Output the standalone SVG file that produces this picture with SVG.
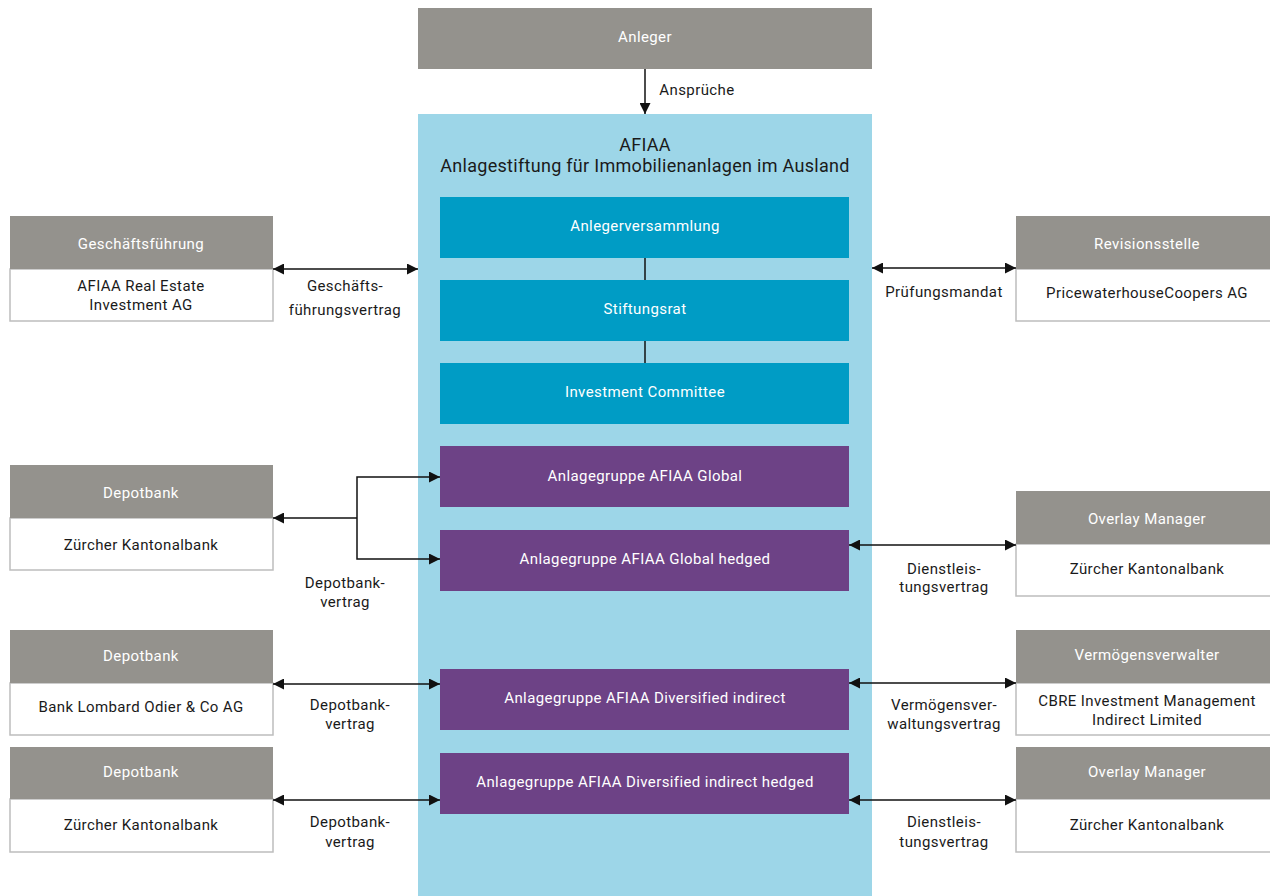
<svg xmlns="http://www.w3.org/2000/svg" width="1270" height="896" viewBox="0 0 1270 896">
<defs>
<marker id="ah" viewBox="0 0 10 10" refX="10" refY="5" markerWidth="11" markerHeight="11" markerUnits="userSpaceOnUse" orient="auto-start-reverse"><path d="M0,0 L10,5 L0,10 Z" fill="#111"/></marker>
<style>
text{font-family:Roboto,"Liberation Sans",sans-serif;font-size:15px;letter-spacing:0.4px;text-anchor:middle;fill:#1a1a1a}
.w{fill:#fff}
.hd{fill:#94928d}
.bd{fill:#fff;stroke:#bdbdbd;stroke-width:1.5}
.tl{fill:#009cc5}
.pu{fill:#6d4286}
.ln{stroke:#111;stroke-width:1.5;fill:none}
.title{font-size:18px;letter-spacing:0.3px}
</style>
</defs>
<rect x="0" y="0" width="1270" height="896" fill="#fff"/>
<g id="anleger"><rect class="hd" x="418" y="8" width="454" height="61"/><text class="w" x="645" y="42">Anleger</text></g>
<g id="afiaa"><rect fill="#9dd6e8" x="418" y="114" width="454" height="782"/><text class="title" x="645" y="151">AFIAA</text><text class="title" x="645" y="172">Anlagestiftung für Immobilienanlagen im Ausland</text></g>
<g id="anlegerversammlung"><rect class="tl" x="440" y="197" width="409" height="61"/><text class="w" x="645" y="231">Anlegerversammlung</text></g>
<g id="stiftungsrat"><rect class="tl" x="440" y="280" width="409" height="61"/><text class="w" x="645" y="314">Stiftungsrat</text></g>
<g id="investment-committee"><rect class="tl" x="440" y="363" width="409" height="61"/><text class="w" x="645" y="397">Investment Committee</text></g>
<g id="ag-global"><rect class="pu" x="440" y="446" width="409" height="61"/><text class="w" x="645" y="481">Anlagegruppe AFIAA Global</text></g>
<g id="ag-global-hedged"><rect class="pu" x="440" y="530" width="409" height="61"/><text class="w" x="645" y="564">Anlagegruppe AFIAA Global hedged</text></g>
<g id="ag-div"><rect class="pu" x="440" y="669" width="409" height="61"/><text class="w" x="645" y="703">Anlagegruppe AFIAA Diversified indirect</text></g>
<g id="ag-div-hedged"><rect class="pu" x="440" y="753" width="409" height="61"/><text class="w" x="645" y="787">Anlagegruppe AFIAA Diversified indirect hedged</text></g>

<g id="geschaeftsfuehrung"><rect class="bd" x="10" y="269" width="263" height="52"/><rect class="hd" x="10" y="216" width="263" height="53"/><text class="w" x="141" y="249">Geschäftsführung</text><text x="141" y="291">AFIAA Real Estate</text><text x="141" y="310">Investment AG</text></g>
<g id="depotbank1"><rect class="bd" x="10" y="518" width="263" height="52"/><rect class="hd" x="10" y="465" width="263" height="53"/><text class="w" x="141" y="498">Depotbank</text><text x="141" y="550">Zürcher Kantonalbank</text></g>
<g id="depotbank2"><rect class="bd" x="10" y="683" width="263" height="52"/><rect class="hd" x="10" y="630" width="263" height="53"/><text class="w" x="141" y="661">Depotbank</text><text x="141" y="712">Bank Lombard Odier &amp; Co AG</text></g>
<g id="depotbank3"><rect class="bd" x="10" y="799" width="263" height="53"/><rect class="hd" x="10" y="747" width="263" height="52"/><text class="w" x="141" y="777">Depotbank</text><text x="141" y="830">Zürcher Kantonalbank</text></g>

<g id="revisionsstelle"><rect class="bd" x="1016" y="269" width="260" height="52"/><rect class="hd" x="1016" y="216" width="260" height="53"/><text class="w" x="1147" y="249">Revisionsstelle</text><text x="1147" y="298">PricewaterhouseCoopers AG</text></g>
<g id="overlay1"><rect class="bd" x="1016" y="544" width="260" height="52"/><rect class="hd" x="1016" y="491" width="260" height="53"/><text class="w" x="1147" y="524">Overlay Manager</text><text x="1147" y="574">Zürcher Kantonalbank</text></g>
<g id="vermoegensverwalter"><rect class="bd" x="1016" y="683" width="260" height="52"/><rect class="hd" x="1016" y="630" width="260" height="53"/><text class="w" x="1147" y="660">Vermögensverwalter</text><text x="1147" y="706">CBRE Investment Management</text><text x="1147" y="725">Indirect Limited</text></g>
<g id="overlay2"><rect class="bd" x="1016" y="799" width="260" height="53"/><rect class="hd" x="1016" y="747" width="260" height="52"/><text class="w" x="1147" y="777">Overlay Manager</text><text x="1147" y="830">Zürcher Kantonalbank</text></g>

<g id="connectors">
<line class="ln" x1="645" y1="69" x2="645" y2="114" marker-end="url(#ah)"/>
<line class="ln" x1="645" y1="258" x2="645" y2="280"/>
<line class="ln" x1="645" y1="341" x2="645" y2="363"/>
<line class="ln" x1="273" y1="269" x2="418" y2="269" marker-start="url(#ah)" marker-end="url(#ah)"/>
<line class="ln" x1="872" y1="268" x2="1016" y2="268" marker-start="url(#ah)" marker-end="url(#ah)"/>
<line class="ln" x1="273" y1="518" x2="357" y2="518" marker-start="url(#ah)"/>
<path class="ln" d="M440,477 H357 V559 H440" marker-start="url(#ah)" marker-end="url(#ah)"/>
<line class="ln" x1="849" y1="545" x2="1016" y2="545" marker-start="url(#ah)" marker-end="url(#ah)"/>
<line class="ln" x1="273" y1="684" x2="440" y2="684" marker-start="url(#ah)" marker-end="url(#ah)"/>
<line class="ln" x1="849" y1="683" x2="1016" y2="683" marker-start="url(#ah)" marker-end="url(#ah)"/>
<line class="ln" x1="273" y1="800" x2="440" y2="800" marker-start="url(#ah)" marker-end="url(#ah)"/>
<line class="ln" x1="849" y1="800" x2="1016" y2="800" marker-start="url(#ah)" marker-end="url(#ah)"/>
<text x="697" y="95">Ansprüche</text>
<text x="345" y="291">Geschäfts-</text>
<text x="345" y="315">führungsvertrag</text>
<text x="944" y="297">Prüfungsmandat</text>
<text x="345" y="588">Depotbank-</text>
<text x="345" y="607">vertrag</text>
<text x="944" y="574">Dienstleis-</text>
<text x="944" y="592">tungsvertrag</text>
<text x="350" y="710">Depotbank-</text>
<text x="350" y="729">vertrag</text>
<text x="944" y="710">Vermögensver-</text>
<text x="944" y="729">waltungsvertrag</text>
<text x="350" y="827">Depotbank-</text>
<text x="350" y="847">vertrag</text>
<text x="944" y="827">Dienstleis-</text>
<text x="944" y="847">tungsvertrag</text>
</g>
</svg>
